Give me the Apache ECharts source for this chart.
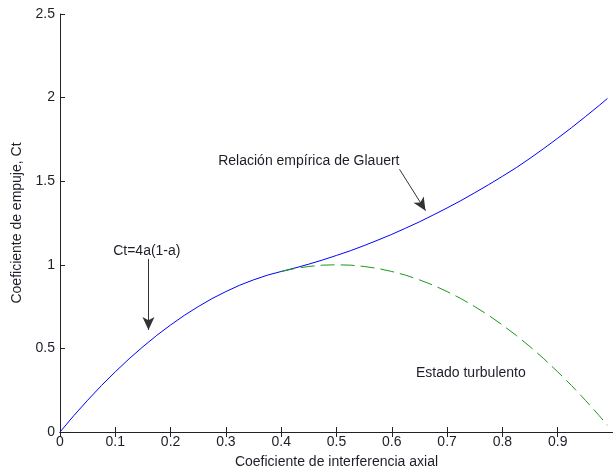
<!DOCTYPE html>
<html><head><meta charset="utf-8">
<script src="https://cdn.jsdelivr.net/npm/echarts@6/dist/echarts.min.js"></script>
<style>html,body{margin:0;padding:0;background:#fff}#c{width:613px;height:474px}</style>
</head><body><div id="c"></div>
<script>
// axial interference factor a
var aValues = [0,0.025,0.05,0.075,0.1,0.125,0.15,0.175,0.2,0.225,0.25,0.275,0.3,0.325,0.35,0.375,0.4,0.425,0.45,0.475,0.5,0.525,0.55,0.575,0.6,0.625,0.65,0.675,0.7,0.725,0.75,0.775,0.8,0.825,0.85,0.875,0.9,0.925,0.95,0.975,0.99];
// blue curve: Ct=4a(1-a) up to ~0.4, then Glauert empirical relation
var ctGlauert = [0,0.098,0.19,0.278,0.36,0.438,0.51,0.578,0.64,0.698,0.75,0.798,0.84,0.878,0.91,0.938,0.96,0.981,1.004,1.029,1.056,1.084,1.115,1.148,1.182,1.219,1.257,1.298,1.34,1.384,1.431,1.479,1.529,1.581,1.637,1.696,1.757,1.82,1.886,1.953,1.995];
// green dashed: momentum theory beyond a=0.4
var aTurb = [0.4,0.425,0.45,0.475,0.5,0.525,0.55,0.575,0.6,0.625,0.65,0.675,0.7,0.725,0.75,0.775,0.8,0.825,0.85,0.875,0.9,0.925,0.95,0.975,0.99];
var ctTurb = [0.96,0.978,0.99,0.998,1.0,0.998,0.99,0.978,0.96,0.938,0.91,0.878,0.84,0.798,0.75,0.698,0.64,0.578,0.51,0.438,0.36,0.278,0.19,0.098,0.04];
var xTicks = ['0','0.1','0.2','0.3','0.4','0.5','0.6','0.7','0.8','0.9'];

var chart = echarts.init(document.getElementById('c'), null, {renderer:'canvas'});
var font = 'Liberation Sans, Arial, sans-serif';
var txt = '#1e1e28';
var fs = 14;
function zip(a,b){return a.map(function(v,i){return [v,b[i]];});}
chart.setOption({
  backgroundColor:'#fff',
  animation:false,
  grid:{left:60,top:14,bottom:42,right:-4,containLabel:false},
  xAxis:[{
    type:'value',min:0,max:1,interval:0.1,position:'bottom',
    name:'Coeficiente de interferencia axial',nameLocation:'middle',nameGap:23,
    nameTextStyle:{fontFamily:font,fontSize:fs,color:txt},
    axisLine:{onZero:false,lineStyle:{color:'#222',width:1}},
    axisTick:{inside:true,length:5,lineStyle:{color:'#222'}},
    axisLabel:{fontFamily:font,fontSize:fs,color:txt,margin:3,showMaxLabel:false,
      formatter:function(v){var i=Math.round(v*10);return i<xTicks.length?xTicks[i]:'';}},
    splitLine:{show:false}
  },{
    type:'value',min:0,max:1,interval:0.1,position:'top',
    axisLine:{lineStyle:{color:'#222',width:1}},
    axisTick:{inside:true,length:5,lineStyle:{color:'#222'}},
    axisLabel:{show:false},splitLine:{show:false}
  }],
  yAxis:{
    type:'value',min:0,max:2.5,interval:0.5,
    name:'Coeficiente de empuje, Ct',nameLocation:'middle',nameGap:34,nameRotate:90,
    nameTextStyle:{fontFamily:font,fontSize:fs,color:txt},
    axisLine:{show:true,lineStyle:{color:'#222',width:1}},
    axisTick:{show:true,inside:true,length:5,lineStyle:{color:'#222'}},
    axisLabel:{fontFamily:font,fontSize:fs,color:txt,margin:5},
    splitLine:{show:false}
  },
  series:[{
    type:'line',data:zip(aValues,ctGlauert),showSymbol:false,
    lineStyle:{color:'#0000ff',width:1},
    markLine:{silent:true,symbol:['none','arrow'],symbolSize:[9,13],
      lineStyle:{color:'#333',width:1,type:'solid'},label:{show:false},
      data:[
        [{coord:[0.16,1.035]},{coord:[0.16,0.61]}],
        [{coord:[0.614,1.571]},{coord:[0.661,1.324]}]
      ]}
  },{
    type:'line',data:zip(aTurb,ctTurb),showSymbol:false,
    lineStyle:{color:'#1a9a1a',width:1,type:[14,6]}
  }]
});
var labels = [
  {t:'Ct=4a(1-a)', x:0.157, y:1.084},
  {t:'Relación empírica de Glauert', x:0.45, y:1.617},
  {t:'Estado turbulento', x:0.743, y:0.353}
];
chart.setOption({graphic:labels.map(function(l){
  var p = chart.convertToPixel({gridIndex:0},[l.x,l.y]);
  return {type:'text',x:p[0],y:p[1],style:{text:l.t,fill:txt,font:fs+'px '+font,textAlign:'center',textVerticalAlign:'middle'}};
})});
</script></body></html>
